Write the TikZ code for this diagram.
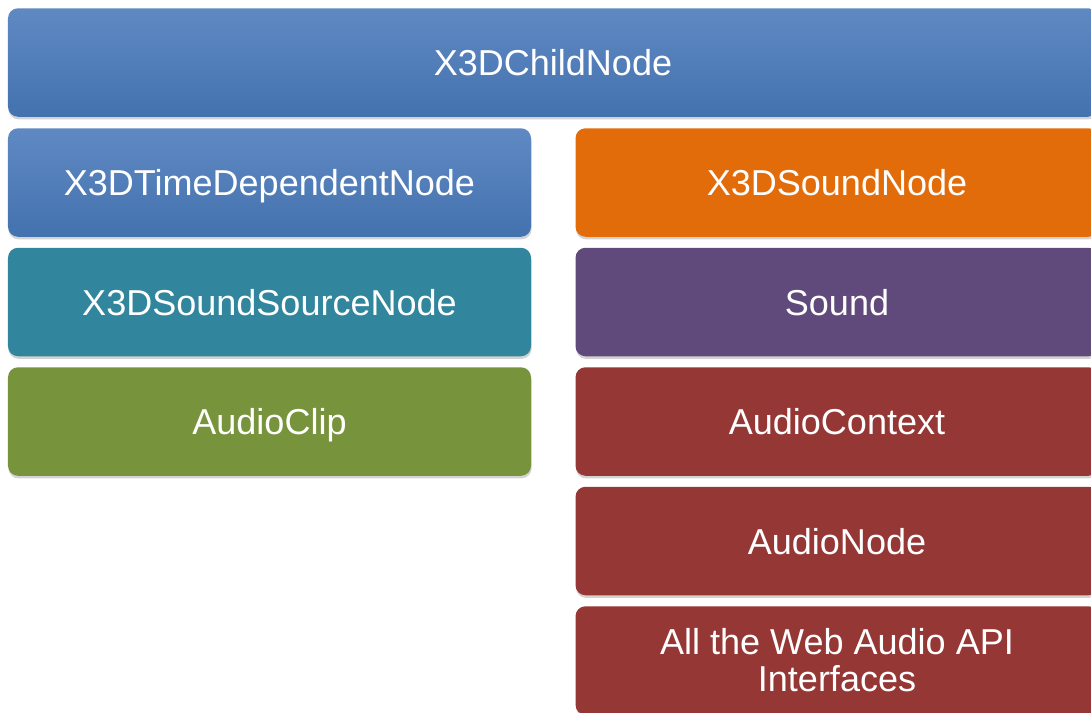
\documentclass[tikz,border=0pt]{standalone}
\usepackage{fontspec}
\setmainfont{Liberation Sans}
\usepackage{xcolor}
\usepackage{tikz}
\usetikzlibrary{shapes, shadows, positioning}

\definecolor{childtop}{HTML}{6089C3}
\definecolor{childbottom}{HTML}{4372AE}
\definecolor{soundorange}{HTML}{E36C0A}
\definecolor{soundpurple}{HTML}{604A7B}
\definecolor{sourceteal}{HTML}{31859C}
\definecolor{clipgreen}{HTML}{77933C}
\definecolor{webaudiored}{HTML}{953735}

\begin{document}
\begin{tikzpicture}[node distance=2.39cm]
\tikzstyle{block} = [rectangle, rounded corners=0.2cm, minimum width=10.46cm, minimum height=2.17cm, text centered, align=center, text=white, text height=15pt, text depth=0pt, font=\fontsize{20.5}{21}\selectfont, drop shadow={opacity=0.35, shadow xshift=0.3pt, shadow yshift=-1.5pt}]
\tikzstyle{blueblock} = [block, top color=childtop, bottom color=childbottom]

\useasboundingbox (0,0) rectangle (21.82,-14.26);
\clip (0,0) rectangle (21.82,-14.26);

\node (child) [blueblock, minimum width=21.8cm] at (11.06,-1.25) {X3DChildNode};
\node (timedep) [blueblock] at (5.39,-3.65) {X3DTimeDependentNode};
\node (source) [block, fill=sourceteal, below of=timedep] {X3DSoundSourceNode};
\node (clip) [block, fill=clipgreen, below of=source] {AudioClip};

\node (soundnode) [block, fill=soundorange, right of=timedep, xshift=8.96cm] {X3DSoundNode};
\node (sound) [block, fill=soundpurple, below of=soundnode] {Sound};
\node (context) [block, fill=webaudiored, below of=sound] {AudioContext};
\node (audionode) [block, fill=webaudiored, below of=context] {AudioNode};
\node (webaudio) [block, fill=webaudiored, below of=audionode, text height={}, text depth={}] {All the Web Audio API\\Interfaces};

\end{tikzpicture}
\end{document}
